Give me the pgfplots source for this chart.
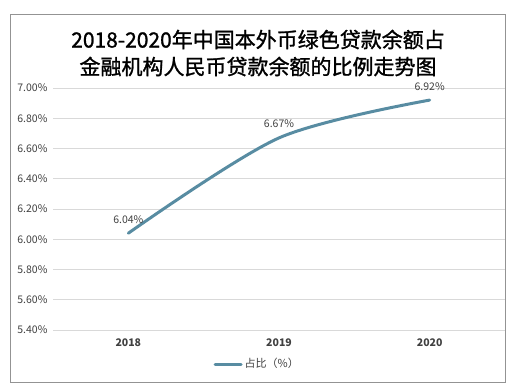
\documentclass[border=0pt]{standalone}
\usepackage{pgfplots}
\pgfplotsset{compat=1.18}
\usepackage{fontspec}
\setmainfont{Noto Sans CJK SC}
\newfontfamily\titlefont[FakeBold=1.2]{Noto Sans CJK SC}
\definecolor{linec}{RGB}{88,140,162}
\definecolor{gridc}{RGB}{217,217,217}
\definecolor{txt}{RGB}{64,64,64}
\begin{document}
\begin{tikzpicture}
\useasboundingbox (0pt,0pt) rectangle (513pt,391pt);
\draw[gray!85, line width=0.9pt] (10pt,9pt) rectangle (505pt,377pt);
\node[font=\titlefont\fontsize{21}{27}\selectfont, align=center, text=black] at (258pt,338pt) {2018-2020年中国本外币绿色贷款余额占\\金融机构人民币贷款余额的比例走势图};
\begin{axis}[
  at={(53pt,61pt)}, anchor=south west, scale only axis,
  width=452pt, height=242pt,
  xmin=-0.5, xmax=2.5, ymin=5.4, ymax=7.0,
  ytick={5.4,5.6,5.8,6.0,6.2,6.4,6.6,6.8,7.0},
  xtick={0,1,2}, xticklabels={2018,2019,2020},
  ymajorgrids, grid style={gridc, line width=0.8pt},
  axis line style={draw=none},
  major tick length=0pt,
  /pgf/number format/assume math mode=true,
  yticklabel={\pgfmathprintnumber[fixed,fixed zerofill,precision=2]{\tick}\%},
  y tick label style={font=\fontsize{10.5}{12}\selectfont, text=txt, xshift=-2pt},
  x tick label style={font=\fontsize{10.5}{12}\selectfont\bfseries, text=txt, yshift=-5pt},
  nodes near coords={\pgfmathprintnumber[fixed,fixed zerofill,precision=2]{\pgfplotspointmeta}\%},
  every node near coord/.style={font=\fontsize{10.5}{12}\selectfont, text=txt, anchor=south, yshift=5pt},
  legend style={at={(0.452,0)}, anchor=center, yshift=-34pt, draw=none, fill=none, font=\fontsize{11}{13}\selectfont, text=txt},
  legend image code/.code={\draw[#1, line width=3pt, line cap=round] (0pt,0pt) -- (26pt,0pt);},
]
\addplot[color=linec, line width=3pt, smooth, line cap=round, point meta=explicit] coordinates {(0,6.04) [6.04] (1,6.67) [6.67] (2,6.92) [6.92]};
\addlegendentry{占比（\%）}
\end{axis}
\end{tikzpicture}
\end{document}
